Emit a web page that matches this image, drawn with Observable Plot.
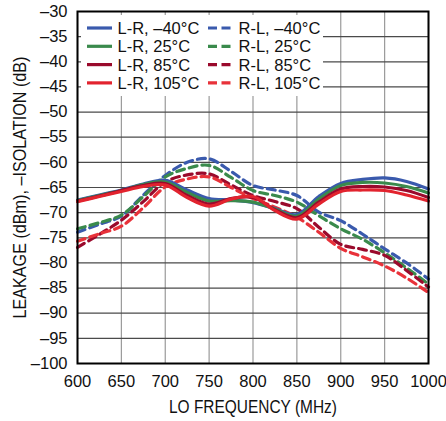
<!DOCTYPE html>
<html><head><meta charset="utf-8">
<script src="https://cdn.jsdelivr.net/npm/d3@7"></script>
<script src="https://cdn.jsdelivr.net/npm/@observablehq/plot@0.6"></script>
<style>
body{margin:0;background:#fff;}
#wrap{position:relative;width:446px;height:421px;font-family:"Liberation Sans",Arial,sans-serif;}
#legend{position:absolute;left:81px;top:15px;width:242px;height:81px;background:#fff;}
#legend svg{position:absolute;left:0;top:0;}
</style>
</head><body>
<div id="wrap"><div id="chart"></div><div id="legend"></div></div>
<script>
const freq = [600, 625, 650, 675, 700, 725, 750, 775, 800, 825, 850, 875, 900, 925, 950, 975, 1000];
const seriesNames = ["L-R, –40°C","L-R, 25°C","L-R, 85°C","L-R, 105°C","R-L, –40°C","R-L, 25°C","R-L, 85°C","R-L, 105°C"];
const colors = ["#3a5aad","#3a8a4c","#9a0a2c","#e2232e","#3a5aad","#3a8a4c","#9a0a2c","#e8323a"];
const dashed = [false,false,false,false,true,true,true,true];
const lrM40 = [-67.5,-66.5,-65.5,-64.3,-63.6,-65.5,-67.2,-67.5,-68.0,-69.2,-70.4,-66.8,-64.2,-63.4,-63.1,-63.8,-65.3];
const lr25  = [-67.6,-66.6,-65.6,-64.4,-63.9,-66.0,-67.7,-67.6,-67.9,-69.3,-70.7,-67.3,-64.6,-64.0,-64.1,-64.8,-66.1];
const lr85  = [-67.7,-66.7,-65.6,-64.6,-64.2,-66.6,-68.3,-67.2,-67.0,-69.4,-71.0,-67.9,-65.3,-64.8,-64.9,-65.6,-67.0];
const lr105 = [-67.8,-66.8,-65.8,-64.8,-64.5,-67.0,-68.7,-67.3,-66.8,-69.6,-71.3,-68.3,-65.8,-65.5,-65.6,-66.5,-67.7];
const rlM40 = [-73.9,-72.3,-70.7,-66.5,-62.6,-60.0,-59.3,-61.8,-64.6,-65.5,-66.6,-69.9,-71.6,-74.3,-77.2,-80.0,-83.2];
const rl25  = [-73.2,-72.0,-70.5,-66.8,-62.9,-61.2,-60.6,-63.0,-65.6,-66.6,-67.9,-70.6,-73.2,-75.3,-78.0,-81.0,-84.2];
const rl85  = [-76.9,-74.3,-71.5,-67.8,-63.9,-62.5,-62.3,-64.5,-66.6,-67.8,-69.2,-72.9,-76.3,-77.3,-78.5,-81.5,-84.8];
const rl105 = [-75.7,-74.2,-72.7,-69.0,-64.9,-63.3,-62.9,-65.0,-67.2,-68.9,-70.9,-73.9,-77.1,-78.8,-80.6,-83.0,-85.9];
const allValues = [lrM40, lr25, lr85, lr105, rlM40, rl25, rl85, rl105];
const xTicks = [600,650,700,750,800,850,900,950,1000];
const yTicks = [-100,-95,-90,-85,-80,-75,-70,-65,-60,-55,-50,-45,-40,-35,-30];
const xLabel = "LO FREQUENCY (MHz)";
const yLabel = "LEAKAGE (dBm), –ISOLATION (dB)";

const fmt = d => d < 0 ? "–" + Math.abs(d) : String(d);
const lineMarks = seriesNames.map((name, i) => {
  const rows = freq.map((f, j) => ({f, v: allValues[i][j]}));
  return Plot.line(rows, {x: "f", y: "v", stroke: colors[i], strokeWidth: 3.2,
    strokeDasharray: dashed[i] ? "8,5" : null, curve: "catmull-rom"});
});
const ordered = [lineMarks[4], lineMarks[5], lineMarks[6], lineMarks[7], lineMarks[0], lineMarks[1], lineMarks[2], lineMarks[3]];

const chart = Plot.plot({
  width: 446, height: 421,
  marginLeft: 77, marginRight: 18, marginTop: 11, marginBottom: 58,
  style: {fontFamily: '"Liberation Sans", Arial, sans-serif', fontSize: "16px", color: "#111", background: "#fff"},
  x: {domain: [600, 1000]},
  y: {domain: [-100, -30]},
  marks: [
    Plot.ruleX(xTicks, {stroke: "#9a9a9a", strokeWidth: 1.2}),
    Plot.ruleY(yTicks, {stroke: "#4a4a4a", strokeWidth: 1.2}),
    ...ordered,
    Plot.frame({stroke: "#000", strokeWidth: 2}),
    Plot.axisX(xTicks, {tickSize: 0, tickPadding: 12, tickFormat: fmt, label: null, fontSize: 16.5}),
    Plot.axisY(yTicks, {tickSize: 0, tickPadding: 10, tickFormat: fmt, label: null, fontSize: 16.5}),
    Plot.text([xLabel], {frameAnchor: "bottom", dy: 44, fontSize: 18, textAnchor: "middle", lineAnchor: "middle", text: d => d}),
    Plot.text([yLabel], {frameAnchor: "left", dx: -57, rotate: -90, fontSize: 18, textAnchor: "middle", lineAnchor: "middle", text: d => d})
  ]
});
// condensed look for the axis titles
chart.querySelectorAll("text").forEach(t => {
  if (t.textContent === xLabel) { t.setAttribute("textLength", 168); t.setAttribute("lengthAdjust", "spacingAndGlyphs"); }
  if (t.textContent === yLabel) { t.setAttribute("textLength", 262); t.setAttribute("lengthAdjust", "spacingAndGlyphs"); }
});
document.getElementById("chart").appendChild(chart);

// legend (box at left 81, top 15)
const NS = "http://www.w3.org/2000/svg";
const lsvg = document.createElementNS(NS, "svg");
lsvg.setAttribute("width", 242); lsvg.setAttribute("height", 81);
const baselines = [19, 37.3, 55.6, 73.9];
const swatchX = [6, 127];
seriesNames.forEach((name, i) => {
  const col = i < 4 ? 0 : 1, r = i % 4;
  const yb = baselines[r];
  const ln = document.createElementNS(NS, "line");
  ln.setAttribute("x1", swatchX[col]); ln.setAttribute("x2", swatchX[col] + 25);
  ln.setAttribute("y1", yb - 6); ln.setAttribute("y2", yb - 6);
  ln.setAttribute("stroke", colors[i]); ln.setAttribute("stroke-width", 3.2);
  if (dashed[i]) ln.setAttribute("stroke-dasharray", "9,4.5");
  lsvg.appendChild(ln);
  const t = document.createElementNS(NS, "text");
  t.setAttribute("x", swatchX[col] + 30.5); t.setAttribute("y", yb);
  t.setAttribute("font-size", "16.5"); t.setAttribute("fill", "#111");
  t.setAttribute("font-family", '"Liberation Sans", Arial, sans-serif');
  t.textContent = name;
  lsvg.appendChild(t);
});
document.getElementById("legend").appendChild(lsvg);
</script>
</body></html>
